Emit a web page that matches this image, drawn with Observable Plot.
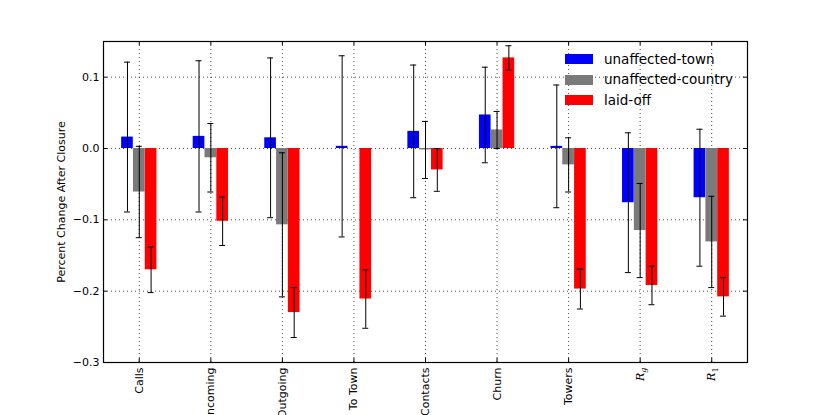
<!DOCTYPE html>
<html><head><meta charset="utf-8">
<script src="https://cdn.jsdelivr.net/npm/d3@7"></script>
<script src="https://cdn.jsdelivr.net/npm/@observablehq/plot@0.6"></script>
<style>
html,body{margin:0;padding:0;background:#fff;}
#wrap{position:relative;width:830px;height:415px;overflow:hidden;font-family:"DejaVu Sans",sans-serif;}
#wrap svg{position:absolute;left:0;top:0;}
#legend{position:absolute;left:565px;top:49px;}
.row{display:flex;align-items:center;height:20.5px;}
.sw{width:28px;height:10px;margin-right:11px;flex:none;}
.lab{font-size:13.5px;color:#000;white-space:nowrap;line-height:1;}
</style></head><body><div id="wrap"><div id="legend"></div></div>
<script>
const categories = ["Calls","Incoming","Outgoing","To Town","Contacts","Churn","Towers","R_g","R_1"];
const series = ["unaffected-town","unaffected-country","laid-off"];
const colors = ["#0000ff","#7a7a7a","#ff0000"];
const townValues    = [0.016, 0.017, 0.015, 0.003, 0.024, 0.047, 0.003, -0.076, -0.069];
const townErrors    = [0.105, 0.106, 0.112, 0.127, 0.093, 0.067, 0.086, 0.098, 0.096];
const countryValues = [-0.061, -0.013, -0.107, null, -0.002, 0.026, -0.023, -0.115, -0.131];
const countryErrors = [0.064, 0.048, 0.101, null, 0.040, 0.026, 0.038, 0.066, 0.064];
const laidoffValues = [-0.170, -0.102, -0.230, -0.211, -0.030, 0.127, -0.197, -0.192, -0.208];
const laidoffErrors = [0.032, 0.034, 0.035, 0.041, 0.030, 0.017, 0.028, 0.027, 0.027];
const yTicks = [-0.3, -0.2, -0.1, 0.0, 0.1];
const yLabel = "Percent Change After Closure";

// layout
const W = 830, H = 415, mL = 103, mR = 83, mT = 41, mB = 53;
const plotW = W - mL - mR, plotH = H - mT - mB;
const step = 0.165, half = 0.0815, cap = 0.042;

const valueSets = [townValues, countryValues, laidoffValues];
const errorSets = [townErrors, countryErrors, laidoffErrors];
const rows = [];
categories.forEach((c, i) => {
  series.forEach((s, k) => {
    const v = valueSets[k][i];
    if (v == null) return;
    const e = errorSets[k][i];
    const cx = i + (k - 1) * step;
    rows.push({cat: c, series: s, color: colors[k], v, e, cx, x1: cx - half, x2: cx + half, lo: v - e, hi: v + e});
  });
});
const catIdx = categories.map((_, i) => i);
const grid = {stroke: "#000", strokeDasharray: "1,3", strokeWidth: 0.9, strokeOpacity: 0.8};

const chart = Plot.plot({
  width: W, height: H,
  marginLeft: mL, marginRight: mR, marginTop: mT, marginBottom: mB,
  style: {fontFamily: "DejaVu Sans, sans-serif", background: "#fff", overflow: "visible"},
  x: {type: "linear", domain: [-0.5, categories.length - 0.5]},
  y: {domain: [-0.3, 0.15]},
  marks: [
    Plot.ruleX(catIdx, {x: d => d, ...grid}),
    Plot.ruleY(yTicks, {y: d => d, ...grid}),
    Plot.rect(rows, {x1: "x1", x2: "x2", y1: 0, y2: "v", fill: "color"}),
    Plot.ruleX(rows, {x: "cx", y1: "lo", y2: "hi", stroke: "#000", strokeWidth: 1}),
    Plot.ruleY(rows, {y: "hi", x1: d => d.cx - cap, x2: d => d.cx + cap, stroke: "#000", strokeWidth: 1}),
    Plot.ruleY(rows, {y: "lo", x1: d => d.cx - cap, x2: d => d.cx + cap, stroke: "#000", strokeWidth: 1}),
    // inward ticks
    Plot.ruleX(catIdx, {x: d => d, insetTop: plotH - 4, stroke: "#000"}),
    Plot.ruleX(catIdx, {x: d => d, insetBottom: plotH - 4, stroke: "#000"}),
    Plot.ruleY(yTicks, {y: d => d, insetRight: plotW - 4, stroke: "#000"}),
    Plot.ruleY(yTicks, {y: d => d, insetLeft: plotW - 4, stroke: "#000"}),
    Plot.frame({stroke: "#000", strokeWidth: 1.2}),
    Plot.axisY({ticks: yTicks, tickFormat: d3.format(".1f"), tickSize: 0, tickPadding: 4, fontSize: 11, label: null}),
    Plot.axisX({ticks: catIdx, tickFormat: i => categories[i], tickRotate: -90, tickSize: 0, tickPadding: 5, fontSize: 11, label: null}),
    Plot.text([yLabel], {text: d => d, frameAnchor: "left", dx: -42, rotate: -90, textAnchor: "middle", fontSize: 11, fill: "#000"})
  ]
});

// math-style labels R_g, R_1
d3.select(chart).selectAll("text").each(function() {
  const t = this.textContent;
  const m = /^R_(.)$/.exec(t);
  if (!m) return;
  const sel = d3.select(this);
  sel.text("");
  sel.append("tspan").attr("font-family", "DejaVu Serif").attr("font-style", "italic").text("R");
  sel.append("tspan").attr("font-family", "DejaVu Serif")
    .attr("font-style", /[a-z]/.test(m[1]) ? "italic" : "normal")
    .attr("font-size", "8px").attr("dy", "0.3em").text(m[1]);
});

document.getElementById("wrap").prepend(chart);

const legend = d3.select("#legend");
series.forEach((s, k) => {
  const r = legend.append("div").attr("class", "row");
  r.append("div").attr("class", "sw").style("background", colors[k]);
  r.append("div").attr("class", "lab").text(s);
});
</script></body></html>
